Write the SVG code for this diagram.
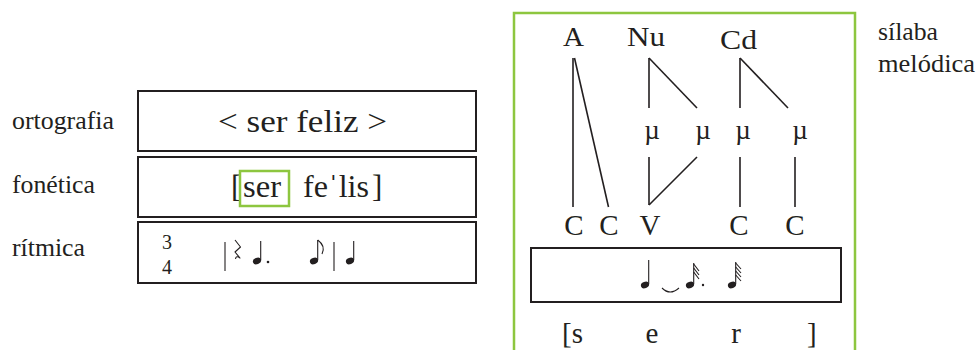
<svg xmlns="http://www.w3.org/2000/svg" width="976" height="350" viewBox="0 0 976 350">
<defs>
<style>
text { font-family: "Liberation Serif", "Times New Roman", serif; fill: #231f20; }
.lab { font-size: 26px; }
.big { font-size: 31px; }
.tree { font-size: 28px; }
.mu { font-size: 27px; }
.seg { font-size: 29px; }
.box { fill: #ffffff; stroke: #231f20; stroke-width: 2; }
.green { fill: none; stroke: #8dc63f; stroke-width: 2.5; }
.ln { stroke: #231f20; stroke-width: 1.6; fill: none; }
.stem { stroke: #231f20; stroke-width: 1.1; fill: none; }
.head { fill: #231f20; }
</style>
</defs>
<rect width="976" height="350" fill="#ffffff"/>

<!-- Left side -->
<g id="label-ortografia"><text class="lab" x="12" y="129" textLength="102" lengthAdjust="spacingAndGlyphs">ortografia</text></g>
<g id="label-fonetica"><text class="lab" x="12" y="193" textLength="83" lengthAdjust="spacingAndGlyphs">fonética</text></g>
<g id="label-ritmica"><text class="lab" x="12" y="256" textLength="73" lengthAdjust="spacingAndGlyphs">rítmica</text></g>

<g id="box-ortografia">
<rect class="box" x="138" y="91" width="338" height="60"/>
<text class="big" x="218" y="132" textLength="169" lengthAdjust="spacingAndGlyphs">&lt; ser feliz &gt;</text>
</g>

<g id="box-fonetica">
<rect class="box" x="138" y="157" width="338" height="60"/>
<text class="big" x="231" y="197">[</text>
<text class="big" x="243" y="197" textLength="38" lengthAdjust="spacingAndGlyphs">ser</text>
<text class="big" x="303" y="197" textLength="66" lengthAdjust="spacingAndGlyphs">feˈlis</text>
<text class="big" x="372" y="197">]</text>
<rect class="green" x="240" y="171" width="49" height="35" stroke-width="1.5"/>
</g>

<g id="box-ritmica">
<rect class="box" x="138" y="222" width="338" height="61"/>
<text x="162" y="249" font-size="20">3</text>
<text x="162" y="274" font-size="20">4</text>
<line class="stem" x1="225" y1="242" x2="225" y2="271" stroke-width="1.3"/>
<path d="M235 240 L240.5 247 L235 252 L240 258 Q236 255 235.5 259" class="stem" stroke-width="2.6" stroke-linejoin="round"/>
<ellipse class="head" cx="257" cy="261" rx="4.2" ry="3.1" transform="rotate(-20 257 261)"/>
<line class="stem" x1="260.7" y1="260" x2="260.7" y2="241"/>
<circle class="head" cx="268" cy="262" r="1.3"/>
<ellipse class="head" cx="314" cy="261" rx="4.2" ry="3.1" transform="rotate(-20 314 261)"/>
<line class="stem" x1="317.7" y1="260" x2="317.7" y2="240"/>
<path d="M317.7 240 Q326 246 322 254" class="stem" stroke-width="1.5"/>
<line class="stem" x1="334" y1="242" x2="334" y2="271" stroke-width="1.3"/>
<ellipse class="head" cx="350" cy="261" rx="4.2" ry="3.1" transform="rotate(-20 350 261)"/>
<line class="stem" x1="353.7" y1="260" x2="353.7" y2="241"/>
</g>

<!-- Right side -->
<g id="frame-silaba">
<path class="green" d="M514 350 L514 13 L855 13 L855 350"/>
</g>
<g id="label-silaba">
<text class="lab" x="878" y="40" textLength="60" lengthAdjust="spacingAndGlyphs">sílaba</text>
<text class="lab" x="878" y="72" textLength="97" lengthAdjust="spacingAndGlyphs">melódica</text>
</g>

<g id="node-A"><text class="tree" x="563" y="46" textLength="21" lengthAdjust="spacingAndGlyphs">A</text></g>
<g id="node-Nu"><text class="tree" x="627" y="46" textLength="38" lengthAdjust="spacingAndGlyphs">Nu</text></g>
<g id="node-Cd"><text class="tree" x="720" y="49" textLength="37" lengthAdjust="spacingAndGlyphs">Cd</text></g>

<g id="node-mu1"><text class="mu" x="652" y="139" text-anchor="middle">µ</text></g>
<g id="node-mu2"><text class="mu" x="703" y="139" text-anchor="middle">µ</text></g>
<g id="node-mu3"><text class="mu" x="743" y="139" text-anchor="middle">µ</text></g>
<g id="node-mu4"><text class="mu" x="800" y="139" text-anchor="middle">µ</text></g>

<g id="node-C1"><text class="seg" x="574" y="235" text-anchor="middle">C</text></g>
<g id="node-C2"><text class="seg" x="609" y="235" text-anchor="middle">C</text></g>
<g id="node-V"><text class="seg" x="650" y="235" text-anchor="middle">V</text></g>
<g id="node-C3"><text class="seg" x="739" y="235" text-anchor="middle">C</text></g>
<g id="node-C4"><text class="seg" x="795" y="235" text-anchor="middle">C</text></g>

<g id="connectors">
<line class="ln" x1="573" y1="58" x2="573" y2="207"/>
<line class="ln" x1="574.5" y1="58" x2="608.5" y2="207"/>
<line class="ln" x1="649" y1="58" x2="649" y2="108"/>
<line class="ln" x1="649" y1="58" x2="697" y2="108"/>
<line class="ln" x1="740" y1="58" x2="740" y2="108"/>
<line class="ln" x1="740" y1="58" x2="788" y2="108"/>
<line class="ln" x1="649" y1="157" x2="649" y2="205"/>
<line class="ln" x1="697" y1="157" x2="649" y2="205"/>
<line class="ln" x1="740" y1="157" x2="740" y2="207"/>
<line class="ln" x1="795" y1="157" x2="795" y2="207"/>
</g>

<g id="box-ritmo-melodico">
<rect class="box" x="531" y="248" width="310" height="54"/>
<ellipse class="head" cx="645" cy="285" rx="4.2" ry="3.1" transform="rotate(-20 645 285)"/>
<line class="stem" x1="648.7" y1="284" x2="648.7" y2="260"/>
<path d="M662 288 Q670 296 679 288" class="stem" stroke-width="1.3"/>
<ellipse class="head" cx="690" cy="285" rx="4.2" ry="3.1" transform="rotate(-20 690 285)"/>
<line class="stem" x1="693.7" y1="284" x2="693.7" y2="263"/>
<path d="M693.7 264 L699 271 M693.7 268 L699 275 M693.7 272 L699 279" class="stem" stroke-width="1.4"/>
<circle class="head" cx="703" cy="285" r="1.2"/>
<ellipse class="head" cx="732" cy="285" rx="4.2" ry="3.1" transform="rotate(-20 732 285)"/>
<line class="stem" x1="735.7" y1="284" x2="735.7" y2="262"/>
<path d="M735.7 263 L741 269 M735.7 267 L741 273 M735.7 271 L741 277 M735.7 275 L741 281" class="stem" stroke-width="1.3"/>
</g>

<g id="segments">
<text class="seg" x="562" y="343">[s</text>
<text class="seg" x="652" y="343" text-anchor="middle">e</text>
<text class="seg" x="736" y="343" text-anchor="middle">r</text>
<text class="seg" x="807" y="343">]</text>
</g>
</svg>
